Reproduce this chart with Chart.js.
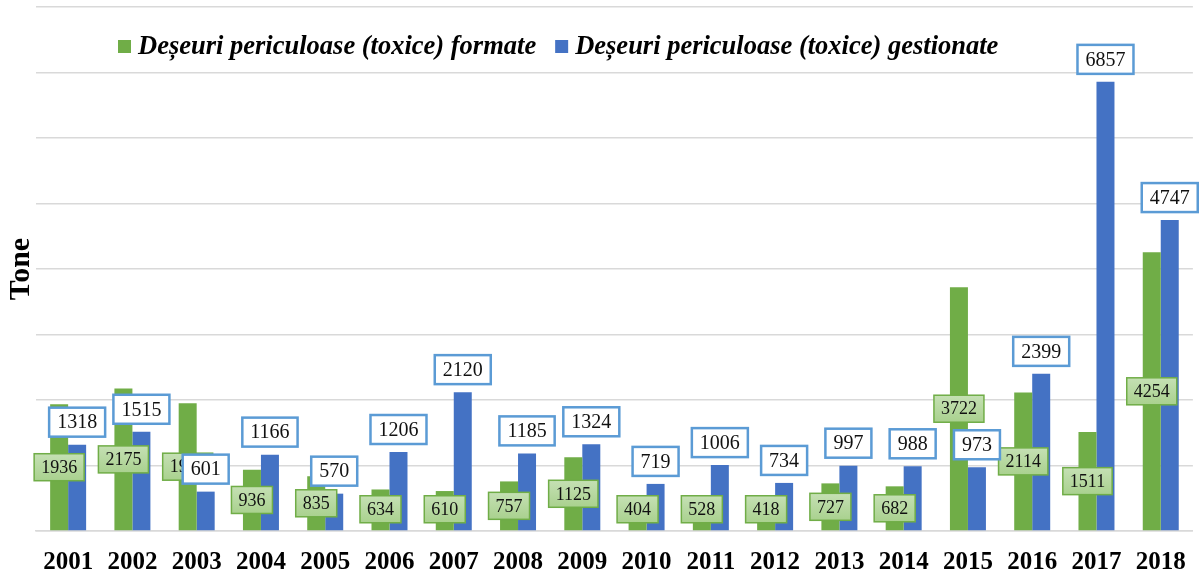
<!DOCTYPE html>
<html>
<head>
<meta charset="utf-8">
<script src="https://cdn.jsdelivr.net/npm/chart.js@4"></script>
<style>
  html, body { margin: 0; padding: 0; background: #fff; }
  #wrap { width: 1203px; height: 577px; }
</style>
</head>
<body>
<div id="wrap"><canvas id="myChart" width="1203" height="577"></canvas></div>
<script>
const years = ["2001", "2002", "2003", "2004", "2005", "2006", "2007", "2008", "2009",
  "2010", "2011", "2012", "2013", "2014", "2015", "2016", "2017", "2018"];
const formate = [1936, 2175, 1952, 936, 835, 634, 610, 757, 1125, 404, 528, 418, 727, 682, 3722, 2114, 1511, 4254];
const gestionate = [1318, 1515, 601, 1166, 570, 1206, 2120, 1185, 1324, 719, 1006, 734, 997, 988, 973, 2399, 6857, 4747];
const seriesNames = ["Deșeuri periculoase (toxice) formate", "Deșeuri periculoase (toxice) gestionate"];

const green = "#70ad47";
const blue = "#4472c4";
const serif = "'Liberation Serif', 'Times New Roman', serif";

// legend sits inside the plot, over the top grid band
const legendPlugin = {
  id: "topLegend",
  afterDraw(chart) {
    const ctx = chart.ctx;
    ctx.save();
    ctx.font = "italic bold 26.5px " + serif;
    ctx.textBaseline = "middle";
    const colors = [green, blue];
    let x = 118;
    const y = 47;
    seriesNames.forEach(function (name, i) {
      ctx.fillStyle = colors[i];
      ctx.fillRect(x, y - 7, 13, 13);
      ctx.fillStyle = "#000";
      ctx.textAlign = "left";
      ctx.fillText(name, x + 20, y);
      x += 20 + ctx.measureText(name).width + 19;
    });
    ctx.restore();
  },
};

const labelPlugin = {
  id: "boxLabels",
  afterDatasetsDraw(chart) {
    const ctx = chart.ctx;
    ctx.save();
    ctx.textAlign = "center";
    ctx.textBaseline = "middle";

    // green labels, centred in the bar (kept clear of the axis line)
    ctx.font = "18px " + serif;
    chart.getDatasetMeta(0).data.forEach(function (el, i) {
      const txt = String(formate[i]);
      const w = ctx.measureText(txt).width + 14;
      const h = 27;
      const cy = Math.min((el.y + el.base) / 2, el.base - 21);
      const g = ctx.createLinearGradient(0, cy - h / 2, 0, cy + h / 2);
      g.addColorStop(0, "#c5e0b4");
      g.addColorStop(1, "#a9d18e");
      ctx.fillStyle = g;
      ctx.fillRect(el.x - w / 2, cy - h / 2, w, h);
      ctx.strokeStyle = green;
      ctx.lineWidth = 1.5;
      ctx.strokeRect(el.x - w / 2, cy - h / 2, w, h);
      ctx.fillStyle = "#111";
      ctx.fillText(txt, el.x, cy + 1);
    });

    // blue labels, boxed above the bar
    ctx.font = "20px " + serif;
    chart.getDatasetMeta(1).data.forEach(function (el, i) {
      const txt = String(gestionate[i]);
      const w = ctx.measureText(txt).width + 16;
      const h = 29;
      const bottom = el.y - 8;
      ctx.fillStyle = "#fff";
      ctx.fillRect(el.x - w / 2, bottom - h, w, h);
      ctx.strokeStyle = "#5b9bd5";
      ctx.lineWidth = 2.5;
      ctx.strokeRect(el.x - w / 2, bottom - h, w, h);
      ctx.fillStyle = "#111";
      ctx.fillText(txt, el.x, bottom - h / 2 + 1);
    });
    ctx.restore();
  },
};

const ctx = document.getElementById("myChart").getContext("2d");

const myChart = new Chart(ctx, {
  type: "bar",
  data: {
    labels: years,
    datasets: [
      {
        label: seriesNames[0],
        data: formate,
        backgroundColor: green,
        categoryPercentage: 0.56,
        barPercentage: 1.0,
      },
      {
        label: seriesNames[1],
        data: gestionate,
        backgroundColor: blue,
        categoryPercentage: 0.56,
        barPercentage: 1.0,
      },
    ],
  },
  options: {
    responsive: false,
    animation: false,
    layout: { padding: { top: 7, right: 9, left: 0, bottom: -18 } },
    plugins: {
      legend: { display: false },
      tooltip: { enabled: false },
    },
    scales: {
      x: {
        grid: { display: false, drawTicks: false },
        border: { color: "#d9d9d9", width: 1.5 },
        ticks: {
          color: "#000",
          font: { family: serif, size: 25, weight: "bold" },
          padding: 17,
          maxRotation: 0,
        },
      },
      y: {
        min: 0,
        max: 8000,
        ticks: { display: false, stepSize: 1000 },
        grid: { color: "#d9d9d9", lineWidth: 1.5, drawTicks: false },
        border: { display: false },
        title: {
          display: true,
          text: "Tone",
          color: "#000",
          font: { family: serif, size: 30, weight: "bold", lineHeight: 1.0 },
          padding: { top: 6, bottom: 0 },
        },
      },
    },
  },
  plugins: [labelPlugin, legendPlugin],
});
</script>
</body>
</html>
